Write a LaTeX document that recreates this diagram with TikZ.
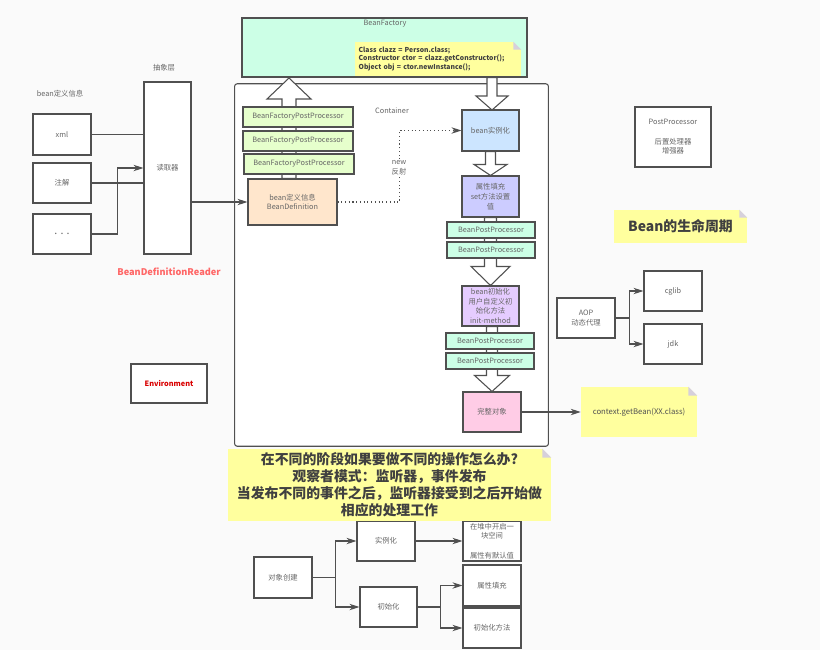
\documentclass[tikz,border=0pt]{standalone}
\usepackage{fontspec}
\setmainfont{Noto Sans CJK SC}
\usetikzlibrary{arrows.meta,calc}
\pgfdeclarelayer{back}
\pgfsetlayers{back,main}
\definecolor{linegray}{HTML}{505050}
\definecolor{textgray}{HTML}{666666}
\definecolor{pagegray}{HTML}{FAFAFA}
\definecolor{notefill}{HTML}{FFFF9E}
\definecolor{foldgray}{HTML}{D6D0DC}
\definecolor{factorygreen}{HTML}{CCFFE6}
\definecolor{limegreen}{HTML}{E6FFCC}
\definecolor{peach}{HTML}{FFE6CC}
\definecolor{skyblue}{HTML}{CCE5FF}
\definecolor{violet}{HTML}{CCCCFF}
\definecolor{lilac}{HTML}{E5CCFF}
\definecolor{rose}{HTML}{FFCCE6}
\tikzset{
  boxsize/.style 2 args={minimum width=#1*0.75pt,minimum height=#2*0.75pt},
  smalltext/.style={font=\fontsize{5.5}{7.3}\selectfont,text=textgray,align=center,inner sep=0pt},
  box/.style={smalltext,draw=linegray,line width=0.8pt,fill=white},
  link/.style={draw=linegray,line width=0.8pt,-{Stealth[length=7.5pt,width=4.8pt]}},
  plainlink/.style={draw=linegray,line width=0.8pt},
  hollow/.style={draw=linegray,line width=0.8pt,fill=white,line join=miter},
  notebox/.style={fill=notefill,inner sep=0pt,align=center,text=black!75},
  frame/.style={rounded corners=2pt,minimum width=235pt,minimum height=271.5pt,inner sep=0pt},
}
% from, tip, half shaft, half head, head length
\newcommand{\hollowarrow}[5]{\draw[hollow] ($(#1 -| #2)+(-#3,0)$) -- ($(#2)+(-#3,#5)$) -- ($(#2)+(-#4,#5)$) -- (#2) -- ($(#2)+(#4,#5)$) -- ($(#2)+(#3,#5)$) -- ($(#1 -| #2)+(#3,0)$) -- cycle;}
% note, colour behind the corner, size of the fold
\newcommand{\notefold}[3]{\fill[#2] ($(#1.north east)+(-#3,0)$) -- (#1.north east) -- ($(#1.north east)+(0,#3)$) -- cycle;
\fill[foldgray] ($(#1.north east)+(-#3,0)$) -- ($(#1.north east)+(-#3,#3)$) -- ($(#1.north east)+(0,#3)$) -- cycle;}
\begin{document}
\begin{tikzpicture}[x=0.75pt,y=0.75pt,yscale=-1,xscale=1]
\useasboundingbox (0,0) rectangle (820,650);

% Left column
\node[box,boxsize={58}{41}] (xml) at (62,134.5) {xml};
\node[box,boxsize={58}{40}] (anno) at (62,183) {注解};
\node[box,boxsize={58}{40},font=\fontsize{8}{9}\selectfont] (more) at (62,234) {. . .};
\node[box,boxsize={47}{172}] (reader) at (167.5,168) {读取器};
\node[smalltext] (deflabel) at (60,94) {bean定义信息};
\node[smalltext] (layerlabel) at (164,68) {抽象层};
\node[smalltext,font=\fontsize{6.9}{8}\selectfont\bfseries,text=red!60] (readerlabel) at (169,272) {BeanDefinitionReader};
\node[box,boxsize={76}{39},font=\fontsize{5.5}{7}\selectfont\bfseries,text=red!85!black] (env) at (169,383.5) {Environment};

% Top
\node[box,boxsize={285}{59},fill=factorygreen] (factory) at (384.5,47.5) {};
\node[smalltext] (factorylabel) at (385,23.5) {BeanFactory};
\node[notebox,boxsize={166}{34},font=\fontsize{5.1}{6.4}\selectfont\bfseries,align=left,text width=119pt] (codenote) at (438,59) {Class clazz = Person.class;\\Constructor ctor = clazz.getConstructor();\\Object obj = ctor.newInstance();};

% Container
\node[frame] (container) at (391.5,265) {};
\node[smalltext] (containerlabel) at (392,111) {Container};
\node[box,boxsize={110}{20},fill=limegreen] (bfpp1) at (298,117) {BeanFactoryPostProcessor};
\node[box,boxsize={110}{20},fill=limegreen] (bfpp2) at (298,141) {BeanFactoryPostProcessor};
\node[box,boxsize={110}{20},fill=limegreen] (bfpp3) at (299,164) {BeanFactoryPostProcessor};
\node[box,boxsize={89}{46},fill=peach] (beandef) at (292.5,202) {bean定义信息\\BeanDefinition};
\node[box,boxsize={57}{41},fill=skyblue] (inst) at (490.5,130.5) {bean实例化};
\node[box,boxsize={57}{41},fill=violet] (attr) at (490.5,196.5) {属性填充\\set方法设置\\值};
\node[box,boxsize={88}{16},fill=factorygreen] (bpp1) at (491,230) {BeanPostProcessor};
\node[box,boxsize={88}{16},fill=factorygreen] (bpp2) at (491,250) {BeanPostProcessor};
\node[box,boxsize={57}{40},fill=lilac] (init) at (490.5,306) {bean初始化\\用户自定义初\\始化方法\\init-method};
\node[box,boxsize={88}{16},fill=factorygreen] (bpp3) at (490,341) {BeanPostProcessor};
\node[box,boxsize={88}{16},fill=factorygreen] (bpp4) at (490,361) {BeanPostProcessor};
\node[box,boxsize={58}{40},fill=rose] (whole) at (492,412) {完整对象};
\coordinate (uptip) at (289,78);
\coordinate (insttip) at (492,110);

% Right column
\node[box,boxsize={76}{60}] (post) at (673,137) {PostProcessor\\ \\后置处理器\\增强器};
\node[notebox,boxsize={133}{33},font=\fontsize{10.4}{12}\selectfont\bfseries] (lifenote) at (680.5,226.5) {Bean的生命周期};
\node[box,boxsize={58}{40}] (aop) at (586,318) {AOP\\动态代理};
\node[box,boxsize={58}{40}] (cglib) at (673,291) {cglib};
\node[box,boxsize={58}{40}] (jdk) at (673,344) {jdk};
\node[notebox,boxsize={116}{50},font=\fontsize{5.8}{7}\selectfont,text=textgray!80!black] (getnote) at (639,412) {context.getBean(XX.class)};

% Bottom
\node[box,boxsize={58}{41}] (create) at (283,577.5) {对象创建};
\node[box,boxsize={58}{40}] (newobj) at (386,541) {实例化};
\node[box,boxsize={57}{40}] (initobj) at (388.5,607) {初始化};
\node[box,boxsize={58}{40}] (heap) at (492,541) {在堆中开启一\\块空间\\ \\属性有默认值};
\node[box,boxsize={58}{41}] (setprop) at (492,585.5) {属性填充};
\node[box,boxsize={58}{40}] (initmethod) at (492,628) {初始化方法};
\node[notebox,boxsize={323}{72},font=\fontsize{10.4}{12.75}\selectfont\bfseries] (bignote) at (389.5,485) {在不同的阶段如果要做不同的操作怎么办?\\观察者模式：监听器，事件发布\\当发布不同的事件之后，监听器接受到之后开始做\\相应的处理工作};

% Arrows under the boxes
\begin{pgfonlayer}{back}
\fill[pagegray] (0,0) rectangle (820,650);
\draw[linegray,line width=0.8pt,fill=white,rounded corners=2pt] (container.north west) rectangle (container.south east);
\hollowarrow{beandef.north}{uptip}{7}{22}{21}
\hollowarrow{factory.south}{insttip}{5}{16}{-14}
\hollowarrow{inst.south}{attr.north}{5}{16.5}{-11}
\hollowarrow{attr.south}{init.north}{6}{19.5}{-19}
\hollowarrow{init.south}{whole.north}{5.5}{17.5}{-16}
\end{pgfonlayer}

% Folds
\notefold{codenote}{factorygreen}{8}
\notefold{lifenote}{pagegray}{8}
\notefold{getnote}{pagegray}{9}
\notefold{bignote}{pagegray}{9}

% Connectors
\draw[plainlink] (xml.east) -- (xml.east -| reader.west);
\draw[plainlink] (anno.east) -- (anno.east -| reader.west);
\draw[link] (more.east) -- ($(more.east)+(26,0)$) |- (reader.west);
\draw[link] (reader.east |- beandef.west) -- (beandef.west);
\draw[link,dotted] (beandef.east) -- ($(beandef.east)+(62,0)$) |- (inst.west);
\draw[link] (whole.east) -- (getnote.west);
\draw[link] (aop.east) -- ($(aop.east)+(14,0)$) |- (cglib.west);
\draw[link] (aop.east) -- ($(aop.east)+(14,0)$) |- (jdk.west);
\draw[link] (create.east) -- ($(create.east)+(23,0)$) |- (newobj.west);
\draw[link] (create.east) -- ($(create.east)+(23,0)$) |- (initobj.west);
\draw[link] (newobj.east) -- (heap.west);
\draw[link] (initobj.east) -- ($(initobj.east)+(23,0)$) |- (setprop.west);
\draw[link] (initobj.east) -- ($(initobj.east)+(23,0)$) |- (initmethod.west);
\node[smalltext,fill=white,inner sep=1pt] (newlabel) at (399,167.5) {new\\反射};

\end{tikzpicture}
\end{document}
